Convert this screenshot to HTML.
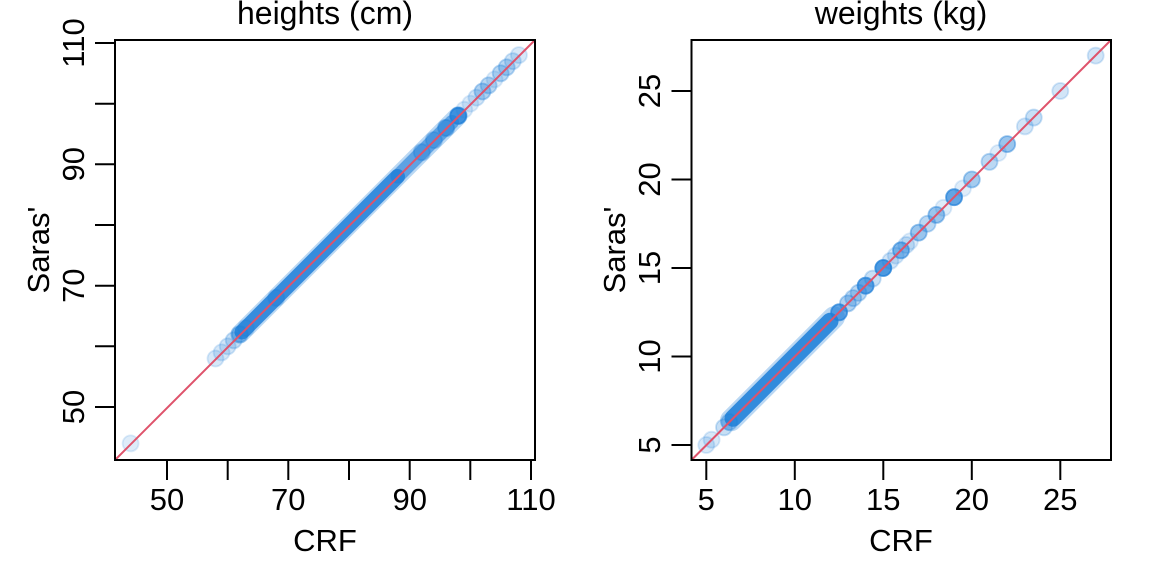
<!DOCTYPE html>
<html>
<head>
<meta charset="utf-8">
<style>
  html,body{margin:0;padding:0;background:#fff;}
  svg{display:block;}
  text{font-family:"Liberation Sans", Arial, sans-serif;fill:#000;}
  .t{font-size:31px;}
  .m{font-size:32px;}
  .p{fill:#1f7fd8;stroke:#1f7fd8;stroke-width:1.8;}
</style>
</head>
<body>
<svg width="1152" height="576" viewBox="0 0 1152 576" xmlns="http://www.w3.org/2000/svg">
  <rect x="0" y="0" width="1152" height="576" fill="#fff"/>

  <!-- ============ LEFT PANEL: heights ============ -->
  <g>
    <line x1="239.8" y1="334.2" x2="458.2" y2="115.8" stroke="#1f7fd8" stroke-opacity="0.3" stroke-width="19" stroke-linecap="round"/>
    <line x1="242" y1="332" x2="397.5" y2="176.5" stroke="#1f7fd8" stroke-opacity="0.85" stroke-width="15" stroke-linecap="round"/>
    <line x1="397.5" y1="176.5" x2="452" y2="122" stroke="#1f7fd8" stroke-opacity="0.6" stroke-width="14" stroke-linecap="round"/>
    <circle class="p" cx="130.6" cy="443.4" r="8" fill-opacity="0.15" stroke-opacity="0.15"/>
    <circle class="p" cx="215.5" cy="358.5" r="8" fill-opacity="0.18" stroke-opacity="0.18"/>
    <circle class="p" cx="221.6" cy="352.4" r="8" fill-opacity="0.18" stroke-opacity="0.18"/>
    <circle class="p" cx="227.7" cy="346.3" r="8" fill-opacity="0.2" stroke-opacity="0.2"/>
    <circle class="p" cx="233.7" cy="340.3" r="8" fill-opacity="0.25" stroke-opacity="0.25"/>
    <circle class="p" cx="239.8" cy="334.2" r="8" fill-opacity="0.4" stroke-opacity="0.4"/>
    <circle class="p" cx="245.9" cy="328.1" r="8" fill-opacity="0.25" stroke-opacity="0.25"/>
    <circle class="p" cx="276.2" cy="297.8" r="8" fill-opacity="0.3" stroke-opacity="0.3"/>
    <circle class="p" cx="421.8" cy="152.2" r="8" fill-opacity="0.35" stroke-opacity="0.35"/>
    <circle class="p" cx="433.9" cy="140.1" r="8" fill-opacity="0.35" stroke-opacity="0.35"/>
    <circle class="p" cx="446.1" cy="127.9" r="8" fill-opacity="0.5" stroke-opacity="0.5"/>
    <circle class="p" cx="458.2" cy="115.8" r="8" fill-opacity="0.8" stroke-opacity="0.8"/>
    <circle class="p" cx="464.3" cy="109.7" r="8" fill-opacity="0.15" stroke-opacity="0.15"/>
    <circle class="p" cx="470.4" cy="103.6" r="8" fill-opacity="0.15" stroke-opacity="0.15"/>
    <circle class="p" cx="476.4" cy="97.6" r="8" fill-opacity="0.2" stroke-opacity="0.2"/>
    <circle class="p" cx="482.5" cy="91.5" r="8" fill-opacity="0.35" stroke-opacity="0.35"/>
    <circle class="p" cx="488.6" cy="85.4" r="8" fill-opacity="0.3" stroke-opacity="0.3"/>
    <circle class="p" cx="494.6" cy="79.4" r="8" fill-opacity="0.15" stroke-opacity="0.15"/>
    <circle class="p" cx="500.7" cy="73.3" r="8" fill-opacity="0.3" stroke-opacity="0.3"/>
    <circle class="p" cx="506.7" cy="67.3" r="8" fill-opacity="0.3" stroke-opacity="0.3"/>
    <circle class="p" cx="512.8" cy="61.2" r="8" fill-opacity="0.22" stroke-opacity="0.22"/>
    <circle class="p" cx="518.9" cy="55.1" r="8" fill-opacity="0.18" stroke-opacity="0.18"/>

    <line x1="115" y1="460" x2="535" y2="40" stroke="#DF536B" stroke-width="2"/>
    <rect x="115" y="40" width="420" height="420" fill="none" stroke="#000" stroke-width="2"/>

    <g stroke="#000" stroke-width="2">
      <line x1="167" y1="460" x2="167" y2="480"/>
      <line x1="227.7" y1="460" x2="227.7" y2="480"/>
      <line x1="288.3" y1="460" x2="288.3" y2="480"/>
      <line x1="349" y1="460" x2="349" y2="480"/>
      <line x1="409.7" y1="460" x2="409.7" y2="480"/>
      <line x1="470.3" y1="460" x2="470.3" y2="480"/>
      <line x1="531" y1="460" x2="531" y2="480"/>
    </g>
    <g class="t" text-anchor="middle">
      <text x="167" y="510">50</text>
      <text x="288.3" y="510">70</text>
      <text x="409.7" y="510">90</text>
      <text x="531" y="510">110</text>
    </g>
    <g stroke="#000" stroke-width="2">
      <line x1="95" y1="407" x2="115" y2="407"/>
      <line x1="95" y1="346.3" x2="115" y2="346.3"/>
      <line x1="95" y1="285.7" x2="115" y2="285.7"/>
      <line x1="95" y1="225" x2="115" y2="225"/>
      <line x1="95" y1="164.3" x2="115" y2="164.3"/>
      <line x1="95" y1="103.7" x2="115" y2="103.7"/>
      <line x1="95" y1="43" x2="115" y2="43"/>
    </g>
    <g class="t" text-anchor="middle">
      <text transform="translate(84,407) rotate(-90)">50</text>
      <text transform="translate(84,285.7) rotate(-90)">70</text>
      <text transform="translate(84,164.3) rotate(-90)">90</text>
      <text transform="translate(84,43) rotate(-90)">110</text>
    </g>
    <text class="t" text-anchor="middle" x="325" y="551">CRF</text>
    <text class="t" text-anchor="middle" transform="translate(49,250) rotate(-90)">Saras'</text>
    <text class="m" text-anchor="middle" x="325" y="24">heights (cm)</text>
  </g>

  <!-- ============ RIGHT PANEL: weights ============ -->
  <g>
    <line x1="731" y1="420.3" x2="834" y2="317.3" stroke="#1f7fd8" stroke-opacity="0.3" stroke-width="22" stroke-linecap="round"/>
    <line x1="733" y1="418.3" x2="830" y2="321.3" stroke="#1f7fd8" stroke-opacity="0.88" stroke-width="17" stroke-linecap="round"/>
    <circle class="p" cx="706.3" cy="445" r="8" fill-opacity="0.18" stroke-opacity="0.18"/>
    <circle class="p" cx="711.6" cy="439.7" r="8" fill-opacity="0.18" stroke-opacity="0.18"/>
    <circle class="p" cx="724" cy="427.3" r="8" fill-opacity="0.25" stroke-opacity="0.25"/>
    <circle class="p" cx="729.3" cy="422" r="8" fill-opacity="0.3" stroke-opacity="0.3"/>
    <circle class="p" cx="839.1" cy="312.3" r="8" fill-opacity="0.7" stroke-opacity="0.7"/>
    <circle class="p" cx="847.9" cy="303.4" r="8" fill-opacity="0.35" stroke-opacity="0.35"/>
    <circle class="p" cx="853.2" cy="298.1" r="8" fill-opacity="0.3" stroke-opacity="0.3"/>
    <circle class="p" cx="858.5" cy="292.8" r="8" fill-opacity="0.3" stroke-opacity="0.3"/>
    <circle class="p" cx="865.6" cy="285.7" r="8" fill-opacity="0.7" stroke-opacity="0.7"/>
    <circle class="p" cx="872.7" cy="278.6" r="8" fill-opacity="0.25" stroke-opacity="0.25"/>
    <circle class="p" cx="883.3" cy="268" r="8" fill-opacity="0.8" stroke-opacity="0.8"/>
    <circle class="p" cx="890.4" cy="260.9" r="8" fill-opacity="0.2" stroke-opacity="0.2"/>
    <circle class="p" cx="895.7" cy="255.6" r="8" fill-opacity="0.18" stroke-opacity="0.18"/>
    <circle class="p" cx="901" cy="250.3" r="8" fill-opacity="0.55" stroke-opacity="0.55"/>
    <circle class="p" cx="906.3" cy="245" r="8" fill-opacity="0.2" stroke-opacity="0.2"/>
    <circle class="p" cx="909.9" cy="241.4" r="8" fill-opacity="0.15" stroke-opacity="0.15"/>
    <circle class="p" cx="918.7" cy="232.6" r="8" fill-opacity="0.45" stroke-opacity="0.45"/>
    <circle class="p" cx="927.55" cy="223.75" r="8" fill-opacity="0.3" stroke-opacity="0.3"/>
    <circle class="p" cx="936.4" cy="214.9" r="8" fill-opacity="0.45" stroke-opacity="0.45"/>
    <circle class="p" cx="943.5" cy="207.8" r="8" fill-opacity="0.15" stroke-opacity="0.15"/>
    <circle class="p" cx="954.1" cy="197.2" r="8" fill-opacity="0.7" stroke-opacity="0.7"/>
    <circle class="p" cx="962.95" cy="188.35" r="8" fill-opacity="0.15" stroke-opacity="0.15"/>
    <circle class="p" cx="971.8" cy="179.5" r="8" fill-opacity="0.4" stroke-opacity="0.4"/>
    <circle class="p" cx="989.5" cy="161.8" r="8" fill-opacity="0.3" stroke-opacity="0.3"/>
    <circle class="p" cx="998.3" cy="153" r="8" fill-opacity="0.15" stroke-opacity="0.15"/>
    <circle class="p" cx="1007.2" cy="144.1" r="8" fill-opacity="0.45" stroke-opacity="0.45"/>
    <circle class="p" cx="1024.9" cy="126.4" r="8" fill-opacity="0.2" stroke-opacity="0.2"/>
    <circle class="p" cx="1033.75" cy="117.55" r="8" fill-opacity="0.25" stroke-opacity="0.25"/>
    <circle class="p" cx="1060.3" cy="91" r="8" fill-opacity="0.2" stroke-opacity="0.2"/>
    <circle class="p" cx="1095.7" cy="55.6" r="8" fill-opacity="0.2" stroke-opacity="0.2"/>

    <line x1="691.5" y1="460" x2="1111" y2="40" stroke="#DF536B" stroke-width="2"/>
    <rect x="691.5" y="40" width="419.5" height="420" fill="none" stroke="#000" stroke-width="2"/>

    <g stroke="#000" stroke-width="2">
      <line x1="706.3" y1="460" x2="706.3" y2="480"/>
      <line x1="794.8" y1="460" x2="794.8" y2="480"/>
      <line x1="883.3" y1="460" x2="883.3" y2="480"/>
      <line x1="971.8" y1="460" x2="971.8" y2="480"/>
      <line x1="1060.3" y1="460" x2="1060.3" y2="480"/>
    </g>
    <g class="t" text-anchor="middle">
      <text x="706.3" y="510">5</text>
      <text x="794.8" y="510">10</text>
      <text x="883.3" y="510">15</text>
      <text x="971.8" y="510">20</text>
      <text x="1060.3" y="510">25</text>
    </g>
    <g stroke="#000" stroke-width="2">
      <line x1="671.5" y1="445" x2="691.5" y2="445"/>
      <line x1="671.5" y1="356.5" x2="691.5" y2="356.5"/>
      <line x1="671.5" y1="268" x2="691.5" y2="268"/>
      <line x1="671.5" y1="179.5" x2="691.5" y2="179.5"/>
      <line x1="671.5" y1="91" x2="691.5" y2="91"/>
    </g>
    <g class="t" text-anchor="middle">
      <text transform="translate(660,445) rotate(-90)">5</text>
      <text transform="translate(660,356.5) rotate(-90)">10</text>
      <text transform="translate(660,268) rotate(-90)">15</text>
      <text transform="translate(660,179.5) rotate(-90)">20</text>
      <text transform="translate(660,91) rotate(-90)">25</text>
    </g>
    <text class="t" text-anchor="middle" x="901" y="551">CRF</text>
    <text class="t" text-anchor="middle" transform="translate(625,250) rotate(-90)">Saras'</text>
    <text class="m" text-anchor="middle" x="901" y="24">weights (kg)</text>
  </g>
</svg>
</body>
</html>
